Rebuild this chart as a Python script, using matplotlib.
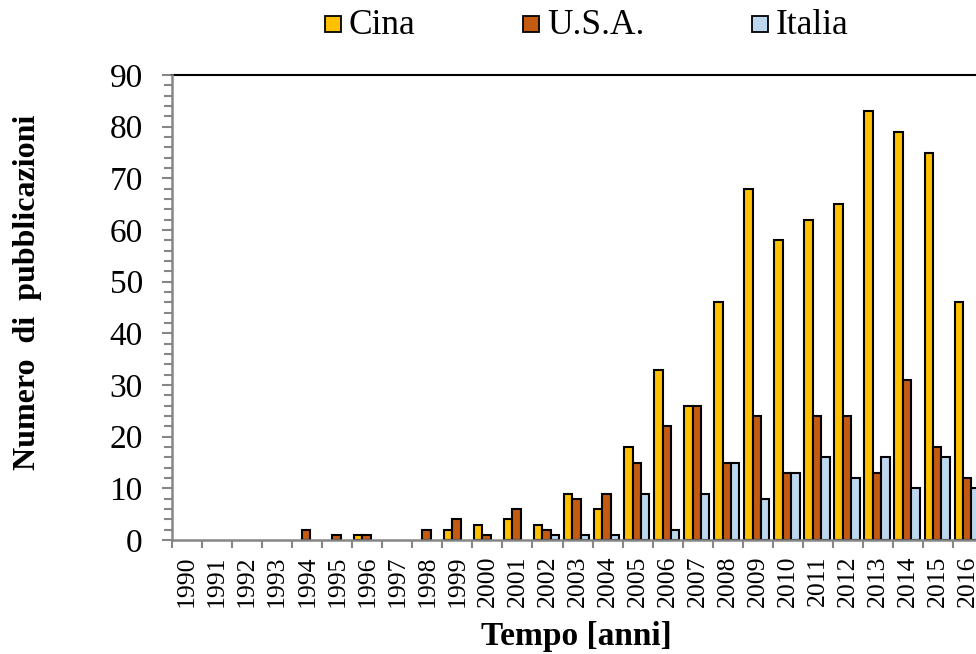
import matplotlib
matplotlib.use("Agg")
import matplotlib.pyplot as plt
import numpy as np
from matplotlib.patches import Rectangle

years = [str(y) for y in range(1990, 2017)]
cina = [0, 0, 0, 0, 0, 0, 1, 0, 0, 2, 3, 4, 3, 9, 6, 18, 33, 26, 46, 68, 58, 62, 65, 83, 79, 75, 46]
usa = [0, 0, 0, 0, 2, 1, 1, 0, 2, 4, 1, 6, 2, 8, 9, 15, 22, 26, 15, 24, 13, 24, 24, 13, 31, 18, 12]
italia = [0, 0, 0, 0, 0, 0, 0, 0, 0, 0, 0, 0, 1, 1, 1, 9, 2, 9, 15, 8, 13, 16, 12, 16, 10, 16, 10]
series_names = ["Cina", "U.S.A.", "Italia"]
colors = ["#FFC000", "#C55A11", "#BDD7EE"]
yticks = list(range(0, 91, 10))

W, H = 976, 654
fig = plt.figure(figsize=(W / 100, H / 100), dpi=100)
serif = ["Liberation Serif", "DejaVu Serif"]

slot = 30.04
n_slots = 28.0
left_px, bottom_px, top_px = 172, 540, 75
ax = fig.add_axes([left_px / W, 1 - bottom_px / H, n_slots * slot / W, (bottom_px - top_px) / H])

x = np.arange(len(years))
bw = 0.28
for i, (vals, c) in enumerate(zip([cina, usa, italia], colors)):
    lws = [1.5 if v > 0 else 0 for v in vals]
    ax.bar(x + (i - 1) * bw - 0.03, vals, width=bw, color=c, edgecolor="black", linewidth=lws, zorder=3)

ax.set_xlim(-0.5, n_slots - 0.5)
ax.set_ylim(0, 90)

gray = "#868686"
for s in ["left", "bottom"]:
    ax.spines[s].set_color(gray)
    ax.spines[s].set_linewidth(1.8)
    ax.spines[s].set_zorder(4)
ax.spines["top"].set_color("black")
ax.spines["top"].set_linewidth(1.5)
ax.spines["right"].set_visible(False)

ax.set_yticks(yticks)
ax.set_yticks(np.arange(0, 91, 2), minor=True)
ax.set_yticklabels([str(v) for v in yticks], fontfamily=serif, fontsize=24)
ax.tick_params(axis="y", which="major", length=7, width=1.5, color=gray, pad=14)
ax.tick_params(axis="y", which="minor", length=6, width=1.5, color=gray)

ax.set_xticks(x)
ax.set_xticklabels(years, rotation=90, fontfamily=serif, fontsize=18.5)
ax.set_xticks(np.arange(-0.5, n_slots, 1.0), minor=True)
ax.tick_params(axis="x", which="major", length=0, pad=11)
ax.tick_params(axis="x", which="minor", length=6, width=1.5, color=gray)

fig.text(28 / W, 1 - 292 / H, "Numero  di  pubblicazioni", rotation=90, ha="center", va="center",
         fontfamily=serif, fontsize=23, fontweight="bold")
fig.text(576 / W, 1 - 636 / H, "Tempo [anni]", ha="center", va="center",
         fontfamily=serif, fontsize=24, fontweight="bold")

# legend
leg_x = [325, 523, 752]
for name, c, px in zip(series_names, colors, leg_x):
    fig.patches.append(Rectangle((px / W, 1 - 32 / H), 16 / W, 16 / H, transform=fig.transFigure,
                                 facecolor=c, edgecolor="black", linewidth=1.3))
    fig.text((px + 24) / W, 1 - 25 / H, name, ha="left", va="center", fontfamily=serif, fontsize=25.5)

fig.savefig("out.png", dpi=100)
